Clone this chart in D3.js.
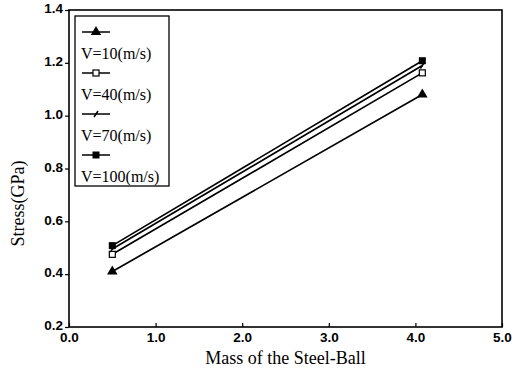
<!DOCTYPE html>
<html>
<head>
<meta charset="utf-8">
<script src="https://cdn.jsdelivr.net/npm/d3@7"></script>
<style>
  body { margin: 0; background: #fff; }
  .tick text { font-family: "Liberation Sans", Arial, sans-serif; font-weight: bold; font-size: 13.5px; }
  .title { font-family: "Liberation Serif", "Times New Roman", serif; font-size: 18px; }
  .legend text { font-family: "Liberation Serif", "Times New Roman", serif; font-size: 16px; }
</style>
</head>
<body>
<script>
// data
var series = ["V=10(m/s)", "V=40(m/s)", "V=70(m/s)", "V=100(m/s)"];
var markers = ["triangle", "openSquare", "cross", "square"];
var mass = [0.5, 4.08];
var v10 = [0.41, 1.08];
var v40 = [0.475, 1.162];
var v70 = [0.495, 1.19];
var v100 = [0.508, 1.208];
var xTicks = [0, 1, 2, 3, 4, 5];
var yTicks = [0.2, 0.4, 0.6, 0.8, 1.0, 1.2, 1.4];

var allValues = [v10, v40, v70, v100];

var width = 525,
    height = 373,
    margin = {left: 69, right: 23, top: 10, bottom: 46};

var svg = d3.select("body").append("svg")
    .attr("width", width)
    .attr("height", height);

var x = d3.scaleLinear()
    .domain([0, 5])
    .range([margin.left, width - margin.right]);

var y = d3.scaleLinear()
    .domain([0.2, 1.4])
    .range([height - margin.bottom, margin.top]);

// frame
svg.append("rect")
    .attr("x", x(0))
    .attr("y", y(1.4))
    .attr("width", x(5) - x(0))
    .attr("height", y(0.2) - y(1.4))
    .attr("fill", "none")
    .attr("stroke", "#000")
    .attr("stroke-width", 1.6);

var xAxis = svg.append("g")
    .attr("transform", "translate(0," + y(0.2) + ")")
    .call(d3.axisBottom(x).tickValues(xTicks).tickFormat(d3.format(".1f")).tickSizeInner(-4).tickSizeOuter(0).tickPadding(5));
xAxis.select(".domain").remove();
xAxis.selectAll(".tick line").attr("stroke-width", 1.2);

var yAxis = svg.append("g")
    .attr("transform", "translate(" + x(0) + ",0)")
    .call(d3.axisLeft(y).tickValues(yTicks).tickFormat(d3.format(".1f")).tickSizeInner(4).tickSizeOuter(0).tickPadding(2));
yAxis.select(".domain").remove();
yAxis.selectAll(".tick line").attr("stroke-width", 1.2);
yAxis.selectAll(".tick text").attr("dy", "0.2em");

svg.append("text")
    .attr("class", "title")
    .attr("x", (x(0) + x(5)) / 2)
    .attr("y", 364)
    .attr("text-anchor", "middle")
    .text("Mass of the Steel-Ball");

svg.append("text")
    .attr("class", "title")
    .attr("transform", "translate(24," + ((y(0.2) + y(1.4)) / 2 + 35) + ") rotate(-90)")
    .attr("text-anchor", "middle")
    .text("Stress(GPa)");

// marker drawing helper
function drawMarker(g, type, cx, cy) {
    if (type == "triangle") {
        g.append("path")
            .attr("d", d3.symbol(d3.symbolTriangle, 48)())
            .attr("transform", "translate(" + cx + "," + cy + ")")
            .attr("fill", "#000");
    } else if (type == "openSquare") {
        g.append("rect")
            .attr("x", cx - 3).attr("y", cy - 3)
            .attr("width", 6).attr("height", 6)
            .attr("fill", "#fff").attr("stroke", "#000").attr("stroke-width", 1.2);
    } else if (type == "square") {
        g.append("rect")
            .attr("x", cx - 3.5).attr("y", cy - 3.5)
            .attr("width", 7).attr("height", 7)
            .attr("fill", "#000");
    } else {
        g.append("path")
            .attr("d", "M" + (cx - 2) + "," + (cy + 3) + "L" + (cx + 2) + "," + (cy - 3))
            .attr("stroke", "#000").attr("stroke-width", 1.5);
    }
}

var line = d3.line()
    .x(function (d) { return x(d[0]); })
    .y(function (d) { return y(d[1]); });

allValues.forEach(function (vals, i) {
    var pts = mass.map(function (m, j) { return [m, vals[j]]; });
    var g = svg.append("g");
    g.append("path")
        .attr("d", line(pts))
        .attr("fill", "none")
        .attr("stroke", "#000")
        .attr("stroke-width", 1.7);
    pts.forEach(function (p) {
        drawMarker(g, markers[i], x(p[0]), y(p[1]));
    });
});

// legend
var legend = svg.append("g").attr("class", "legend");
legend.append("rect")
    .attr("x", 75).attr("y", 16)
    .attr("width", 94).attr("height", 170)
    .attr("fill", "#fff")
    .attr("stroke", "#000")
    .attr("stroke-width", 1.3);

series.forEach(function (name, i) {
    var ly = 32 + i * 41;
    legend.append("line")
        .attr("x1", 82).attr("x2", 110)
        .attr("y1", ly).attr("y2", ly)
        .attr("stroke", "#000").attr("stroke-width", 1.5);
    drawMarker(legend, markers[i], 96, ly);
    legend.append("text")
        .attr("x", 81)
        .attr("y", ly + 27)
        .text(name);
});
</script>
</body>
</html>
